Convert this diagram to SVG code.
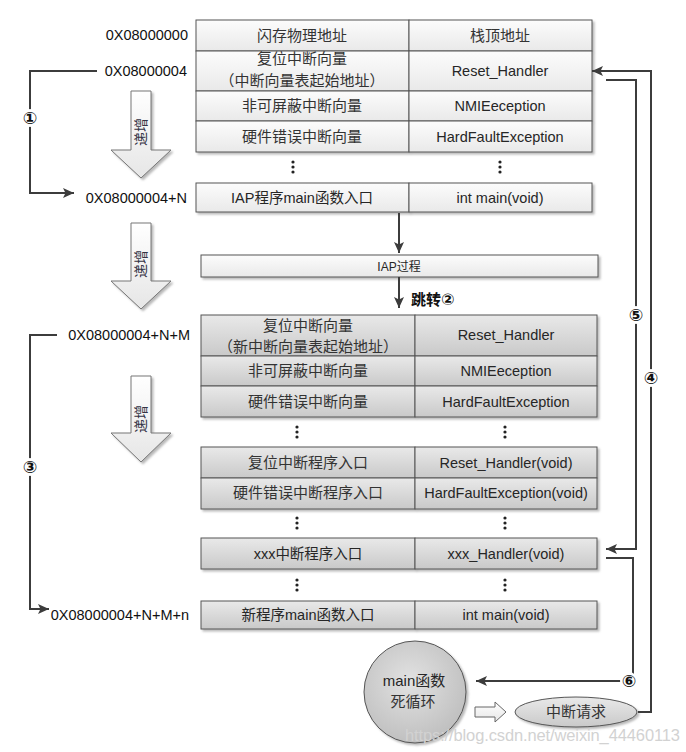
<svg xmlns="http://www.w3.org/2000/svg" width="686" height="752" viewBox="0 0 686 752">
<defs>
<linearGradient id="gTop" x1="0" y1="0" x2="0" y2="1"><stop offset="0" stop-color="#fcfcfc"/><stop offset="1" stop-color="#e9e9e9"/></linearGradient>
<linearGradient id="gLow" x1="0" y1="0" x2="0" y2="1"><stop offset="0" stop-color="#e9e9e9"/><stop offset="1" stop-color="#c9c9c9"/></linearGradient>
<linearGradient id="gArrow" x1="0" y1="0" x2="0" y2="1"><stop offset="0" stop-color="#ffffff"/><stop offset="1" stop-color="#e6e6e6"/></linearGradient>
<radialGradient id="gCirc" cx="0.45" cy="0.4" r="0.65"><stop offset="0" stop-color="#e2e2e2"/><stop offset="1" stop-color="#bdbdbd"/></radialGradient>
<filter id="sh" x="-5%" y="-5%" width="115%" height="125%"><feDropShadow dx="2" dy="2" stdDeviation="1" flood-color="#8a8a8a" flood-opacity="0.6"/></filter>
<marker id="ah" markerUnits="userSpaceOnUse" markerWidth="12" markerHeight="10" refX="11" refY="5" orient="auto"><path d="M0,0 L11,5 L0,10 L2.5,5 z" fill="#3c3c3c"/></marker>
<style>
.ct{fill:url(#gTop);stroke:#555;stroke-width:1}
.cl{fill:url(#gLow);stroke:#555;stroke-width:1}
.t{font-family:"Liberation Sans","Noto Sans CJK SC",sans-serif;font-size:14.5px;fill:#262626;text-anchor:middle}
.z{font-family:"Noto Sans CJK SC",sans-serif;font-size:15px;fill:#333;text-anchor:middle}
.a{font-family:"Liberation Sans","Noto Sans CJK SC",sans-serif;font-size:14.5px;fill:#111;text-anchor:end}
.conn{fill:none;stroke:#3c3c3c;stroke-width:2}
.num{font-family:"DejaVu Sans","Noto Sans CJK SC",sans-serif;font-size:17px;font-weight:bold;fill:#111;text-anchor:middle}
.dot{fill:#222}
.harr{fill:url(#gArrow);stroke:#777;stroke-width:1}
.inc{font-family:"Noto Sans CJK SC",sans-serif;font-size:14px;fill:#334;text-anchor:middle}
</style>
</defs>
<rect width="686" height="752" fill="#fff"/>

<!-- address labels -->
<g id="addresses">
<text class="a" x="188" y="40">0X08000000</text>
<text class="a" x="187" y="76">0X08000004</text>
<text class="a" x="187" y="203">0X08000004+N</text>
<text class="a" x="190" y="340">0X08000004+N+M</text>
<text class="a" x="189" y="620">0X08000004+N+M+n</text>
</g>

<!-- hollow increment arrows -->
<g id="inc1">
<polygon class="harr" filter="url(#sh)" points="131,91 151,91 151,150 171,150 141,178 111,150 131,150"/>
<text class="inc" transform="translate(146,132) rotate(-90)">递增</text>
</g>
<g id="inc2">
<polygon class="harr" filter="url(#sh)" points="131,223 151,223 151,281 171,281 141,309 111,281 131,281"/>
<text class="inc" transform="translate(146,264) rotate(-90)">递增</text>
</g>
<g id="inc3">
<polygon class="harr" filter="url(#sh)" points="131,376 151,376 151,433 171,433 141,462 111,433 131,433"/>
<text class="inc" transform="translate(146,419) rotate(-90)">递增</text>
</g>

<!-- top (IAP) table -->
<g id="iap-table" filter="url(#sh)">
<rect class="ct" x="196" y="20" width="213" height="31"/><rect class="ct" x="409" y="20" width="183" height="31"/>
<rect class="ct" x="196" y="51" width="213" height="40"/><rect class="ct" x="409" y="51" width="183" height="40"/>
<rect class="ct" x="196" y="91" width="213" height="30"/><rect class="ct" x="409" y="91" width="183" height="30"/>
<rect class="ct" x="196" y="121" width="213" height="31"/><rect class="ct" x="409" y="121" width="183" height="31"/>
</g>
<g id="iap-table-text">
<text class="z" x="302" y="41">闪存物理地址</text><text class="z" x="500" y="41">栈顶地址</text>
<text class="z" x="302" y="64">复位中断向量</text><text class="z" x="302" y="86">（中断向量表起始地址）</text>
<text class="t" x="500" y="76">Reset_Handler</text>
<text class="z" x="302" y="111">非可屏蔽中断向量</text><text class="t" x="500" y="111">NMIEeception</text>
<text class="z" x="302" y="142">硬件错误中断向量</text><text class="t" x="500" y="142">HardFaultException</text>
</g>
<g id="dots1">
<circle class="dot" cx="293" cy="162" r="1.6"/><circle class="dot" cx="293" cy="167" r="1.6"/><circle class="dot" cx="293" cy="172" r="1.6"/>
<circle class="dot" cx="500" cy="162" r="1.6"/><circle class="dot" cx="500" cy="167" r="1.6"/><circle class="dot" cx="500" cy="172" r="1.6"/>
</g>
<g id="iap-main">
<rect class="ct" filter="url(#sh)" x="196" y="183" width="213" height="29"/><rect class="ct" filter="url(#sh)" x="409" y="183" width="183" height="29"/>
<text class="t" x="302" y="203">IAP程序main函数入口</text><text class="t" x="500" y="203">int main(void)</text>
</g>

<!-- IAP process -->
<g id="iap-process">
<rect class="ct" filter="url(#sh)" x="201" y="255" width="397" height="22"/>
<text class="t" x="399" y="271" style="font-size:12px">IAP过程</text>
</g>

<!-- new app table -->
<g id="app-table" filter="url(#sh)">
<rect class="cl" x="201" y="315" width="214" height="41"/><rect class="cl" x="415" y="315" width="182" height="41"/>
<rect class="cl" x="201" y="356" width="214" height="30"/><rect class="cl" x="415" y="356" width="182" height="30"/>
<rect class="cl" x="201" y="386" width="214" height="31"/><rect class="cl" x="415" y="386" width="182" height="31"/>
</g>
<g id="app-table-text">
<text class="z" x="308" y="331">复位中断向量</text><text class="z" x="308" y="352">（新中断向量表起始地址）</text>
<text class="t" x="506" y="340">Reset_Handler</text>
<text class="z" x="308" y="376">非可屏蔽中断向量</text><text class="t" x="506" y="376">NMIEeception</text>
<text class="z" x="308" y="407">硬件错误中断向量</text><text class="t" x="506" y="407">HardFaultException</text>
</g>
<g id="dots2">
<circle class="dot" cx="297" cy="427" r="1.6"/><circle class="dot" cx="297" cy="432" r="1.6"/><circle class="dot" cx="297" cy="437" r="1.6"/>
<circle class="dot" cx="505" cy="427" r="1.6"/><circle class="dot" cx="505" cy="432" r="1.6"/><circle class="dot" cx="505" cy="437" r="1.6"/>
</g>
<g id="app-handlers" filter="url(#sh)">
<rect class="cl" x="201" y="447" width="214" height="31"/><rect class="cl" x="415" y="447" width="182" height="31"/>
<rect class="cl" x="201" y="478" width="214" height="31"/><rect class="cl" x="415" y="478" width="182" height="31"/>
</g>
<g id="app-handlers-text">
<text class="z" x="308" y="468">复位中断程序入口</text><text class="t" x="506" y="468">Reset_Handler(void)</text>
<text class="z" x="308" y="498">硬件错误中断程序入口</text><text class="t" x="506" y="498">HardFaultException(void)</text>
</g>
<g id="dots3">
<circle class="dot" cx="297" cy="518" r="1.6"/><circle class="dot" cx="297" cy="523" r="1.6"/><circle class="dot" cx="297" cy="528" r="1.6"/>
<circle class="dot" cx="505" cy="518" r="1.6"/><circle class="dot" cx="505" cy="523" r="1.6"/><circle class="dot" cx="505" cy="528" r="1.6"/>
</g>
<g id="app-xxx">
<rect class="cl" filter="url(#sh)" x="201" y="538" width="214" height="31"/><rect class="cl" filter="url(#sh)" x="415" y="538" width="182" height="31"/>
<text class="t" x="308" y="559">xxx中断程序入口</text><text class="t" x="506" y="559">xxx_Handler(void)</text>
</g>
<g id="dots4">
<circle class="dot" cx="297" cy="580" r="1.6"/><circle class="dot" cx="297" cy="585" r="1.6"/><circle class="dot" cx="297" cy="590" r="1.6"/>
<circle class="dot" cx="505" cy="580" r="1.6"/><circle class="dot" cx="505" cy="585" r="1.6"/><circle class="dot" cx="505" cy="590" r="1.6"/>
</g>
<g id="app-main">
<rect class="cl" filter="url(#sh)" x="201" y="601" width="214" height="28"/><rect class="cl" filter="url(#sh)" x="415" y="601" width="182" height="28"/>
<text class="t" x="308" y="620">新程序main函数入口</text><text class="t" x="506" y="620">int main(void)</text>
</g>

<!-- main loop circle -->
<g id="main-loop">
<circle cx="415" cy="692" r="51" fill="url(#gCirc)" stroke="#555" stroke-width="1" filter="url(#sh)"/>
<text class="t" x="414" y="686" style="font-size:15px">main函数</text>
<text class="z" x="413" y="707">死循环</text>
</g>
<g id="to-irq">
<polygon class="harr" points="475,707 495,707 495,702 506,712 495,722 495,717 475,717" style="stroke:#666"/>
</g>
<g id="irq">
<ellipse cx="576" cy="712" rx="61" ry="15" fill="url(#gLow)" stroke="#555" stroke-width="1" filter="url(#sh)"/>
<text class="z" x="576" y="717">中断请求</text>
</g>

<!-- connectors -->
<g id="connectors">
<path class="conn" d="M97,71 H30 V193 H74" marker-end="url(#ah)"/>
<path class="conn" d="M57,335 H30 V609 H49" marker-end="url(#ah)"/>
<path class="conn" d="M399,213 V253" marker-end="url(#ah)"/>
<path class="conn" d="M399,277 V308" marker-end="url(#ah)"/>
<path class="conn" d="M638,712 H651 V71 H592" marker-end="url(#ah)"/>
<path class="conn" d="M606,80 H636 V549 H606" marker-end="url(#ah)"/>
<path class="conn" d="M606,558 H633 V681 H476" marker-end="url(#ah)"/>
</g>
<g id="labels">
<circle cx="30" cy="118" r="9" fill="#fff"/><text class="num" x="30" y="124">①</text>
<text x="411" y="305" style="font-family:'Noto Sans CJK SC',sans-serif;font-size:15px;font-weight:bold;fill:#111">跳转<tspan style="font-family:'DejaVu Sans',sans-serif;font-size:16px">②</tspan></text>
<circle cx="30" cy="467" r="9" fill="#fff"/><text class="num" x="30" y="473">③</text>
<circle cx="651" cy="378" r="9" fill="#fff"/><text class="num" x="651" y="384">④</text>
<circle cx="636" cy="315" r="9" fill="#fff"/><text class="num" x="636" y="321">⑤</text>
<circle cx="629" cy="681" r="9" fill="#fff"/><text class="num" x="629" y="687">⑥</text>
</g>
<text x="405" y="741" style="font-family:'Liberation Sans',sans-serif;font-size:16.5px;fill:#d2d2d2" textLength="275">https://blog.csdn.net/weixin_44460113</text>
</svg>
